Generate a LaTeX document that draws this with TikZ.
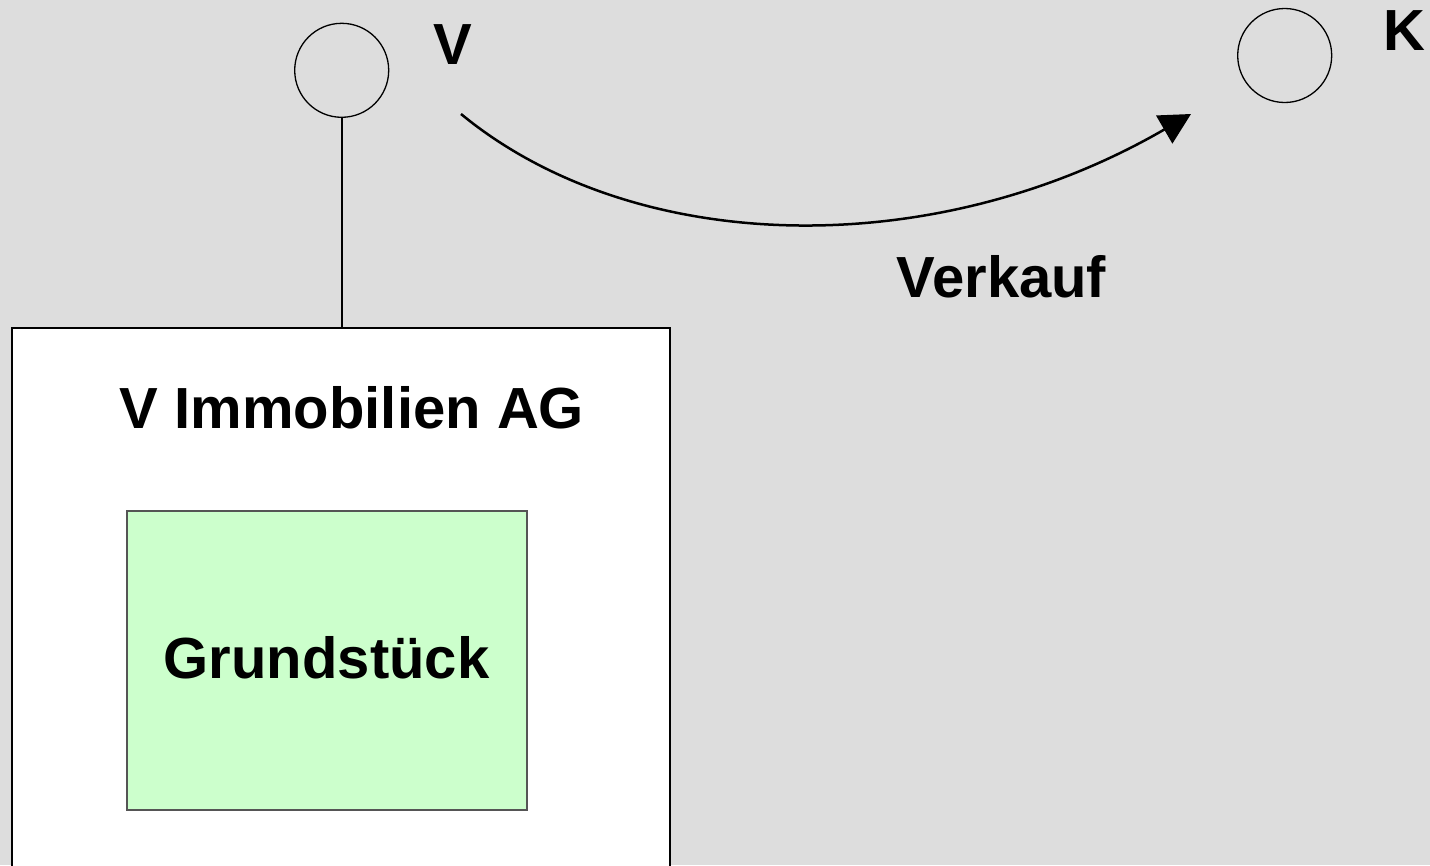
\documentclass[tikz,border=0pt]{standalone}
\usepackage{fontspec}
\setmainfont{Liberation Sans}
\usetikzlibrary{arrows.meta}
\definecolor{bggray}{HTML}{DDDDDD}
\definecolor{landgreen}{HTML}{CCFFCC}
\definecolor{landedge}{HTML}{555555}
\tikzset{
  lbl/.style={font=\fontsize{58}{69}\selectfont\bfseries, anchor=base, inner sep=0pt},
  party/.style={circle, draw=black, line width=1.3pt, minimum size=94pt, inner sep=0pt},
  company/.style={draw=black, fill=white, line width=2.5pt},
  asset/.style={draw=landedge, fill=landgreen, line width=1.5pt},
  link/.style={draw=black, line width=2pt},
  sale/.style={draw=black, line width=2.5pt, -{Triangle[length=31pt, width=32pt]}}
}
\begin{document}
\begin{tikzpicture}[x=1pt, y=-1pt]
  % page frame and background
  \path[use as bounding box, fill=bggray] (0,0) rectangle (1430,865);
  \clip (0,0) rectangle (1430,865);

  % parties
  \node[party] (cV) at (341.7,70.3) {};
  \node[party] (cK) at (1284.7,55.5) {};
  \node[lbl] (tV) at (453,64) {V};
  \node[lbl] (tK) at (1404,50) {K};

  % company box (runs off the bottom edge) and its land plot
  \draw[company] (12,328) rectangle (670,900);
  \coordinate (agtop) at (341.7,328);
  \node[lbl] (tAG) at (352,428) {V Immobilien AG};
  \node[asset, minimum width=400pt, minimum height=299pt, inner sep=0pt] (gs) at (327,660.5) {};
  \node[lbl] (tGS) at (326.5,678) {Grundstück};

  % shareholding line
  \draw[link] (cV.south) -- (agtop);

  % sale arrow
  \coordinate (s0) at (461,114);
  \coordinate (s1) at (1191,114);
  \draw[sale] (s0) .. controls (636,258) and (936,262) .. (s1);
  \node[lbl] (tVk) at (1001.5,297) {Verkauf};
\end{tikzpicture}
\end{document}
